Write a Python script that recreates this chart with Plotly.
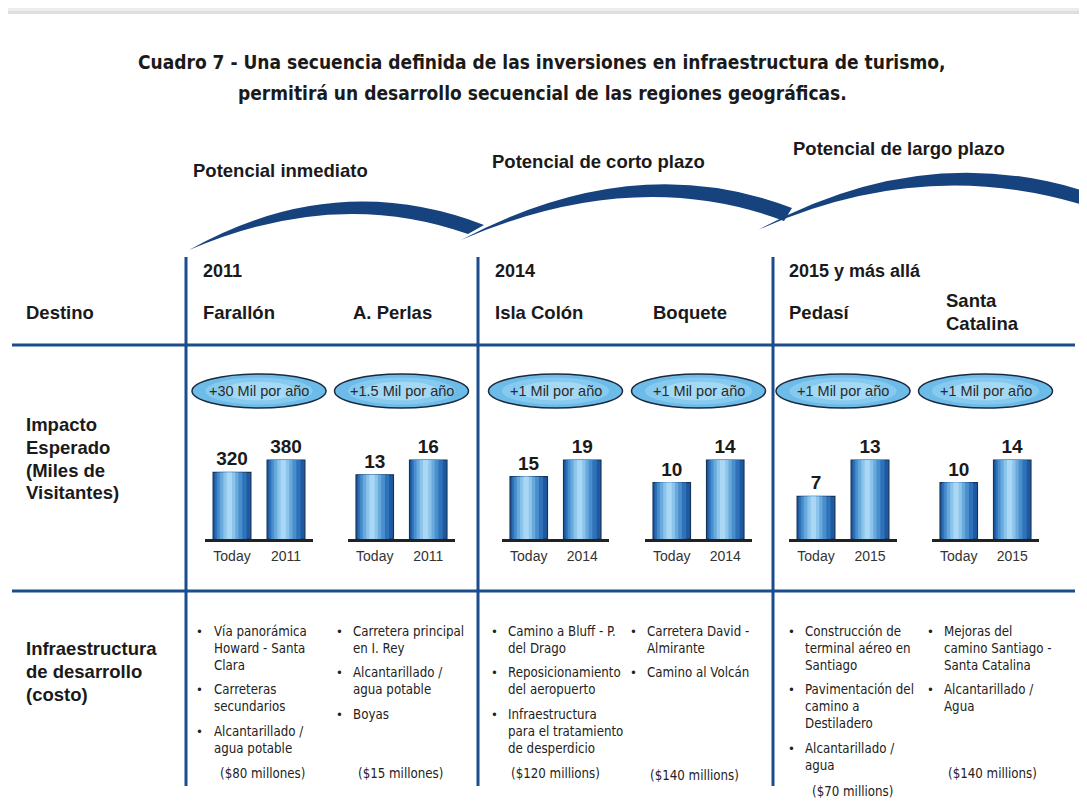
import plotly.graph_objects as go

# page geometry: the browser body keeps an 8px margin, so the figure is placed at (8, 8)
PAGE_W, PAGE_H, OFF = 1087, 812, 8
W, H = PAGE_W - OFF, PAGE_H - OFF

# ---------------- data ----------------
title_lines = [
    "Cuadro 7 - Una secuencia definida de las inversiones en infraestructura de turismo,",
    "permitirá un desarrollo secuencial de las regiones geográficas.",
]
phases = ["Potencial inmediato", "Potencial de corto plazo", "Potencial de largo plazo"]
periods = ["2011", "2014", "2015 y más allá"]
destinations = [["Farallón"], ["A. Perlas"], ["Isla Colón"], ["Boquete"], ["Pedasí"], ["Santa", "Catalina"]]
bar_categories = [
    ["Today", "2011"], ["Today", "2011"], ["Today", "2014"],
    ["Today", "2014"], ["Today", "2015"], ["Today", "2015"],
]
today_visitors = [320, 13, 15, 10, 7, 10]
target_visitors = [380, 16, 19, 14, 13, 14]
growth_labels = ["+30 Mil por año", "+1.5 Mil por año", "+1 Mil por año",
                 "+1 Mil por año", "+1 Mil por año", "+1 Mil por año"]
row_destino = ["Destino"]
row_impacto = ["Impacto", "Esperado", "(Miles de", "Visitantes)"]
row_infra = ["Infraestructura", "de desarrollo", "(costo)"]
infra_items = [
    [["Vía panorámica", "Howard - Santa", "Clara"], ["Carreteras", "secundarios"], ["Alcantarillado /", "agua potable"]],
    [["Carretera principal", "en I. Rey"], ["Alcantarillado /", "agua potable"], ["Boyas"]],
    [["Camino a Bluff - P.", "del Drago"], ["Reposicionamiento", "del aeropuerto"], ["Infraestructura", "para el tratamiento", "de desperdicio"]],
    [["Carretera David -", "Almirante"], ["Camino al Volcán"]],
    [["Construcción de", "terminal aéreo en", "Santiago"], ["Pavimentación del", "camino a", "Destiladero"], ["Alcantarillado /", "agua"]],
    [["Mejoras del", "camino Santiago -", "Santa Catalina"], ["Alcantarillado /", "Agua"]],
]
costs = ["($80 millones)", "($15 millones)", "($120 millions)",
         "($140 millions)", "($70 millions)", "($140 millions)"]

# ---------------- layout helpers (page pixel positions) ----------------
FONT = "Liberation Sans, Arial, Helvetica, sans-serif"
NARROW = "DejaVu Sans Condensed, Liberation Sans Narrow, Arial Narrow, sans-serif"
BLUE = "#1b4c8c"
ARC = "#16427e"
TXT = "#1a1a1a"


def px(x):
    return (x - OFF) / W


def py(y):
    return 1 - (y - OFF) / H


annotations = []


def text(x, y, s, size, bold=False, anchor="left", color=TXT, family=FONT):
    annotations.append(dict(
        x=px(x), y=py(y), xref="paper", yref="paper", text=("<b>%s</b>" % s) if bold else s,
        showarrow=False, xanchor=anchor, yanchor="middle",
        font=dict(size=size, color=color, family=family), borderpad=0,
    ))


shapes = []
# page background / card
shapes.append(dict(type="rect", xref="paper", yref="paper", x0=px(0), x1=px(1100), y0=py(0), y1=py(830),
                   fillcolor="#ececec", line=dict(width=0), layer="below"))
shapes.append(dict(type="rect", xref="paper", yref="paper", x0=px(4), x1=px(1100), y0=py(11), y1=py(830),
                   fillcolor="#dedede", line=dict(width=0), layer="below"))
shapes.append(dict(type="rect", xref="paper", yref="paper", x0=px(7), x1=px(1100), y0=py(14), y1=py(830),
                   fillcolor="#ffffff", line=dict(width=0), layer="below"))

# title
text(541, 62, title_lines[0], 19, bold=True, anchor="center", family=NARROW)
text(542, 93, title_lines[1], 19, bold=True, anchor="center", family=NARROW)

# phase labels
phase_pos = [(192, 170), (491, 162), (792, 148)]
for (x, y), s in zip(phase_pos, phases):
    text(x, y, s, 18.5, bold=True)


# arcs (crescent swooshes)
def arc_path(tip, top_ctrl, top_end, bot_end, bot_ctrl):
    pts = lambda p: "%.5f,%.5f" % (px(p[0]), py(p[1]))
    return ("M %s Q %s %s L %s Q %s %s Z" %
            (pts(tip), pts(top_ctrl), pts(top_end), pts(bot_end), pts(bot_ctrl), pts(tip)))


arcs = [
    ((189, 250), (335, 168), (484, 225), (468, 234), (335, 187)),
    ((461, 240), (635, 148), (792, 208), (784, 221), (635, 165)),
    ((758, 230), (935, 133), (1110, 200), (1110, 214), (935, 150)),
]
for a in arcs:
    shapes.append(dict(type="path", xref="paper", yref="paper", path=arc_path(*a),
                       fillcolor=ARC, line=dict(width=0)))

# grid lines
for x in [186, 478, 773]:
    shapes.append(dict(type="line", xref="paper", yref="paper", x0=px(x), x1=px(x), y0=py(257), y1=py(786),
                       line=dict(color=BLUE, width=3)))
for y in [345, 591]:
    shapes.append(dict(type="line", xref="paper", yref="paper", x0=px(12), x1=px(1075), y0=py(y), y1=py(y),
                       line=dict(color=BLUE, width=3)))

# period + destination headers
for x, s in zip([202, 494, 788], periods):
    text(x, 271, s, 18, bold=True)
dest_x = [202, 352, 494, 652, 788, 945]
for x, lines in zip(dest_x, destinations):
    if len(lines) == 1:
        text(x, 312, lines[0], 18.5, bold=True)
    else:
        for k, s in enumerate(lines):
            text(x, 300 + 23 * k, s, 18.5, bold=True)

# row labels
text(25, 312, row_destino[0], 18.5, bold=True)
for k, s in enumerate(row_impacto):
    text(25, 424 + 23 * k, s, 18.5, bold=True)
for k, s in enumerate(row_infra):
    text(25, 648 + 23 * k, s, 18.5, bold=True)

# ---------------- bar panels ----------------
panel_px = [(205, 313), (348, 455), (502, 609), (645, 752), (789, 897), (932, 1039)]
BASE, TOP = 539, 440
FULL = 79.0  # pixel height of the tallest bar in each panel

layers = [  # (width, offset, color)
    (0.70, -0.35, "#1d5aa2"),
    (0.58, -0.31, "#2f72b9"),
    (0.46, -0.27, "#4a8fcd"),
    (0.34, -0.22, "#69aadd"),
    (0.22, -0.16, "#8cc4ec"),
    (0.10, -0.10, "#aad8f4"),
]

fig = go.Figure()
for i in range(6):
    ax = "" if i == 0 else str(i + 1)
    vals = [today_visitors[i], target_visitors[i]]
    for j, (w, off, col) in enumerate(layers):
        fig.add_trace(go.Bar(
            x=bar_categories[i], y=vals, xaxis="x" + ax, yaxis="y" + ax,
            width=[w, w], offset=[off, off],
            marker=dict(color=col, line=dict(color="#17335a", width=1.2) if j == 0 else dict(width=0)),
            text=[str(v) for v in vals] if j == 0 else None,
            textposition="outside" if j == 0 else "none",
            textfont=dict(size=19, color=TXT, family=FONT, weight="bold"),
            constraintext="none", cliponaxis=False, hoverinfo="skip", showlegend=False,
        ))
    x0, x1 = panel_px[i]
    ymax = max(vals) * (BASE - TOP) / FULL
    fig.layout["xaxis" + ax] = dict(
        domain=[px(x0), px(x1)], anchor="y" + ax, type="category", range=[-0.5, 1.5],
        showline=True, linecolor="#222222", linewidth=3, ticks="", showgrid=False, zeroline=False,
        tickfont=dict(size=14, color="#333333", family=FONT), ticklabelstandoff=2, fixedrange=True,
    )
    fig.layout["yaxis" + ax] = dict(
        domain=[py(BASE), py(TOP)], anchor="x" + ax, range=[0, ymax], visible=False, fixedrange=True,
    )
    # growth ellipse
    cx = (x0 + x1) / 2
    for scale, col, lw in [(1.0, "#6cbbe8", 1.5), (0.8, "#86caef", 0), (0.55, "#a4d9f5", 0)]:
        hw, hh = 67 * scale, 17 * scale
        shapes.append(dict(type="circle", xref="paper", yref="paper",
                           x0=px(cx - hw), x1=px(cx + hw), y0=py(391 + hh), y1=py(391 - hh),
                           fillcolor=col, line=dict(color="#1c2a40", width=lw)))
    text(cx, 391, growth_labels[i], 14.5, anchor="center", color="#2a2a2a")

# ---------------- infrastructure bullets ----------------
BULLET_FONT = "DejaVu Sans Condensed, Liberation Sans, Arial, sans-serif"
bullet_x = [199, 339, 494, 633, 791, 930]
item_x = [213, 352, 507, 646, 804, 943]
cost_pos = [(262, 773), (400, 773), (555, 773), (694, 775), (852, 791), (992, 773)]
for c in range(6):
    y = 631
    for item in infra_items[c]:
        text(bullet_x[c], y, "•", 13, anchor="center", color="#222222", family=BULLET_FONT)
        for k, line in enumerate(item):
            text(item_x[c], y, line, 13.2, color="#222222", family=BULLET_FONT)
            y += 17
        y += 7.5
    text(cost_pos[c][0], cost_pos[c][1], costs[c], 13.2, anchor="center", color="#222222", family=BULLET_FONT)

fig.update_layout(
    width=W, height=H, margin=dict(l=0, r=0, t=0, b=0),
    paper_bgcolor="#f2f2f2", plot_bgcolor="rgba(0,0,0,0)",
    barmode="overlay", showlegend=False,
    shapes=shapes, annotations=annotations,
    font=dict(family=FONT),
)
fig.write_html("out.html")
